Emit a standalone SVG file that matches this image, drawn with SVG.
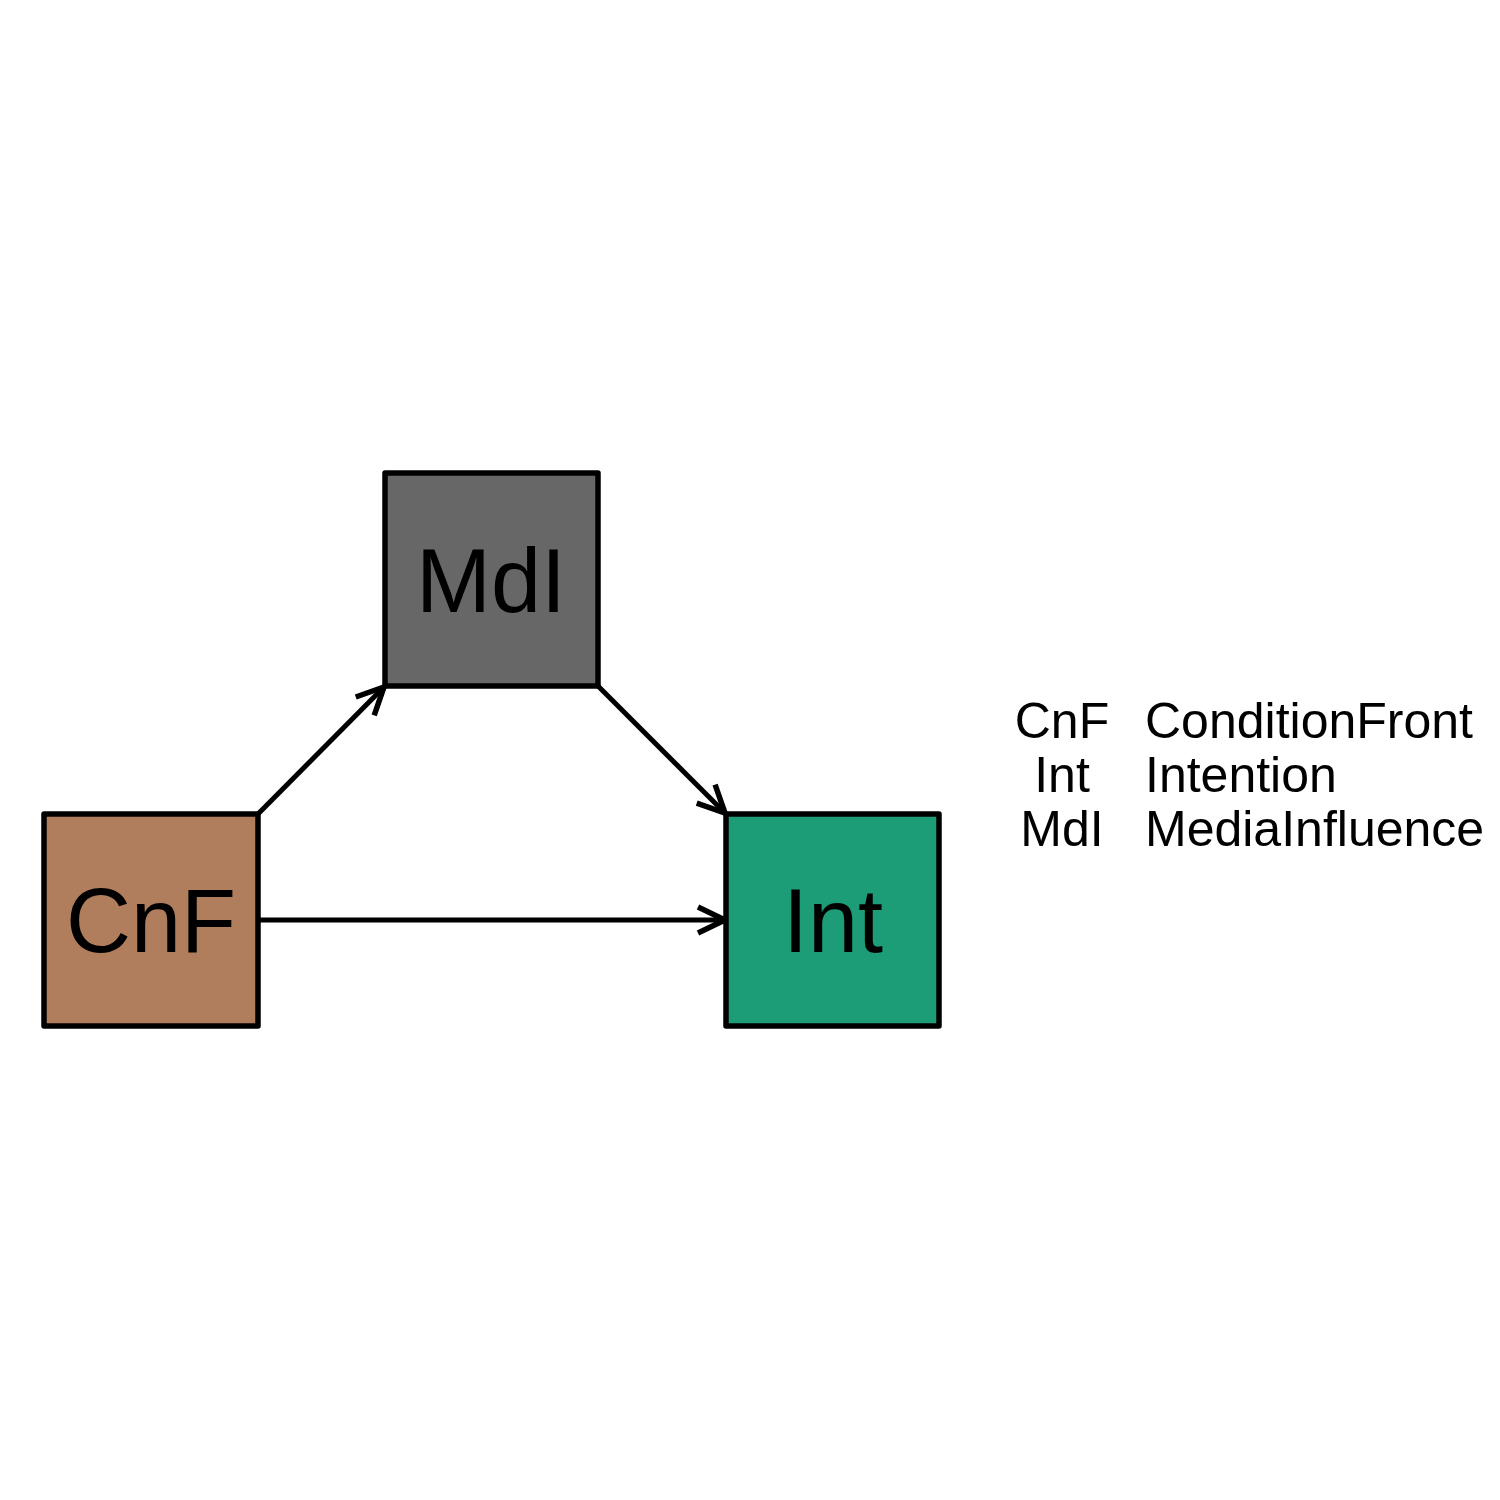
<svg xmlns="http://www.w3.org/2000/svg" width="1500" height="1500" viewBox="0 0 1500 1500">
<style>
.node{stroke:#000;stroke-width:5.5;stroke-linejoin:round}
.lbl{font-family:"Liberation Sans",Arial,sans-serif;font-size:90px;text-anchor:middle;fill:#000}
.leg{font-family:"Liberation Sans",Arial,sans-serif;font-size:50px;fill:#000}
.edge{stroke:#000;stroke-width:5;fill:none}
</style>
<defs>
<marker id="arr" markerUnits="userSpaceOnUse" markerWidth="40" markerHeight="40" viewBox="-30 -20 40 40" refX="0" refY="0" orient="auto">
<path d="M-27,-13 L0,0 L-27,13" fill="none" stroke="#000" stroke-width="5.5"/>
</marker>
</defs>
<rect width="1500" height="1500" fill="#fff"/>
<g id="edges">
<line class="edge" x1="258" y1="814" x2="384" y2="687" marker-end="url(#arr)"/>
<line class="edge" x1="258" y1="920" x2="725" y2="920" marker-end="url(#arr)"/>
<line class="edge" x1="598" y1="686" x2="725" y2="813" marker-end="url(#arr)"/>
</g>
<g id="node-CnF">
<rect class="node" x="44" y="814" width="214" height="212" fill="#b07e5d"/>
<text class="lbl" x="151" y="952">CnF</text>
</g>
<g id="node-MdI">
<rect class="node" x="385" y="473" width="213" height="213" fill="#676767"/>
<text class="lbl" x="491" y="612">MdI</text>
</g>
<g id="node-Int">
<rect class="node" x="726" y="814" width="213" height="212" fill="#1c9c77"/>
<text class="lbl" x="833" y="952">Int</text>
</g>
<g id="legend">
<text class="leg" x="1062" y="738" text-anchor="middle">CnF</text>
<text class="leg" x="1062" y="792" text-anchor="middle">Int</text>
<text class="leg" x="1062" y="846" text-anchor="middle">MdI</text>
<text class="leg" x="1145" y="738">ConditionFront</text>
<text class="leg" x="1145" y="792">Intention</text>
<text class="leg" x="1145" y="846">MediaInfluence</text>
</g>
</svg>
